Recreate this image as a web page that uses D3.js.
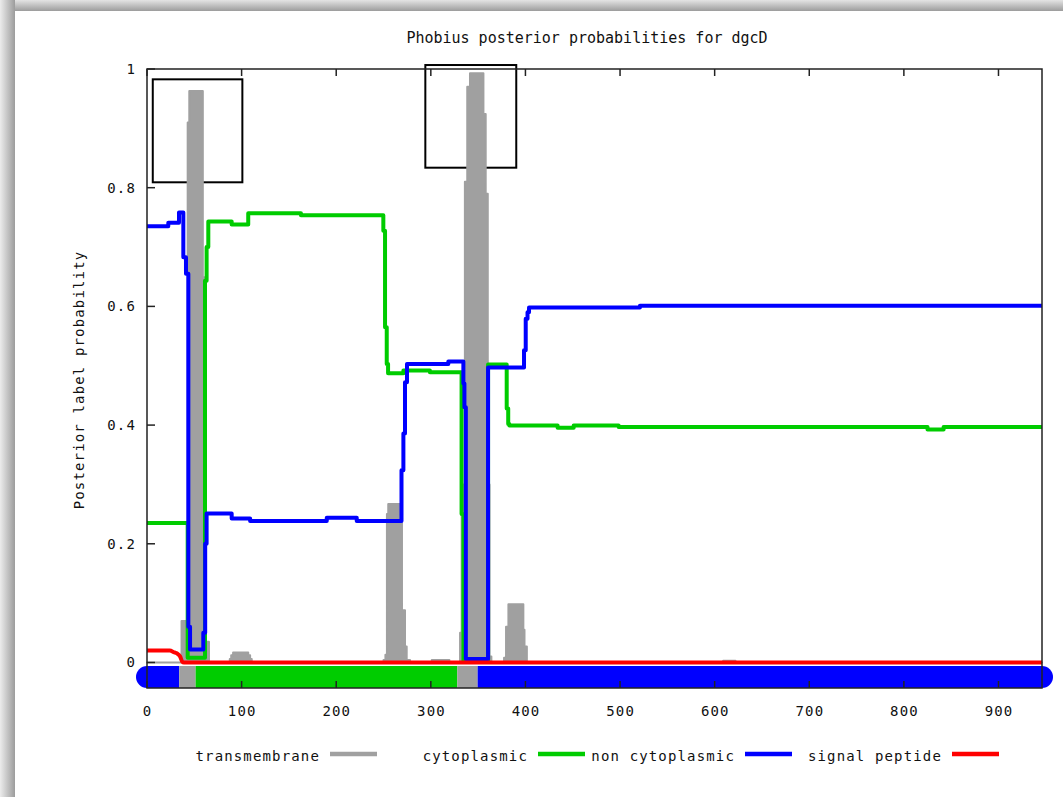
<!DOCTYPE html>
<html>
<head>
<meta charset="utf-8">
<script src="https://cdn.jsdelivr.net/npm/d3@7"></script>
<style>
  body { margin: 0; background: #ffffff; }
  text { font-family: "DejaVu Sans Mono", "Liberation Mono", monospace; fill: #111; }
</style>
</head>
<body>
<script>
// ---------------- data ----------------
const title = "Phobius posterior probabilities for dgcD";
const yLabel = "Posterior label probability";
const seqLength = 946;
const xTicks = [0, 100, 200, 300, 400, 500, 600, 700, 800, 900];
const yTicks = [0, 0.2, 0.4, 0.6, 0.8, 1];
const yTickLabels = ["0", "0.2", "0.4", "0.6", "0.8", "1"];

const legendNames = ["transmembrane", "cytoplasmic", "non cytoplasmic", "signal peptide"];
const legendColors = ["#a0a0a0", "#00cc00", "#0000ff", "#ff0000"];

// transmembrane (gray), step positions / values
const tmPos = [0, 36.5, 43, 44.7, 59, 60.8, 65.5, 87.5, 89, 91, 107, 109, 110.7,
  250, 252, 253.6, 255, 267, 269.5, 272.7, 274.5, 278, 301, 319.6,
  330.9, 332.6, 336, 338.5, 341.4, 355.6, 358, 360.2, 362, 364,
  377.4, 379.5, 382, 397.8, 399, 401.5, 609, 622, 946];
const tmVal = [0, 0.07, 0.91, 0.963, 0.649, 0.035, 0, 0.006, 0.012, 0.017, 0.012, 0.006, 0,
  0.004, 0.013, 0.25, 0.267, 0.25, 0.088, 0.027, 0.004, 0, 0.004, 0,
  0.05, 0.3, 0.81, 0.97, 0.993, 0.924, 0.79, 0.3, 0.01, 0,
  0.008, 0.06, 0.098, 0.055, 0.027, 0, 0.003, 0, 0];

// cytoplasmic (green)
const cytoPos = [0, 43, 61.3, 63, 64.8, 89.5, 107, 162.7, 249.8, 251.6, 253.4, 254.8,
  271, 299, 332.5, 334.5, 360.5, 380.2, 381.8, 383, 434, 451, 498.5, 825, 842, 946];
const cytoVal = [0.235, 0.008, 0.643, 0.70, 0.743, 0.738, 0.757, 0.7535, 0.7275, 0.565, 0.503, 0.4875,
  0.492, 0.489, 0.25, 0.003, 0.502, 0.428, 0.402, 0.3995, 0.3956, 0.3995, 0.3966, 0.3927, 0.3966, 0.3966];

// non cytoplasmic (blue)
const nonCytoPos = [0, 22.5, 33.8, 38.4, 41.2, 43.7, 45.5, 59.5, 61.5, 63, 89.5, 109, 190, 221.7,
  269, 271, 272.7, 274.8, 318.5, 334.4, 335.5, 337, 360.5, 398.5, 400.3, 402.2, 403.8, 521, 946];
const nonCytoVal = [0.735, 0.741, 0.758, 0.683, 0.655, 0.06, 0.022, 0.05, 0.2, 0.251, 0.2425, 0.2385, 0.244, 0.2385,
  0.324, 0.386, 0.472, 0.503, 0.507, 0.47, 0.43, 0.006, 0.497, 0.526, 0.579, 0.59, 0.598, 0.601, 0.601];

// signal peptide (red)
const sigPos = [0, 24, 29, 31.5, 35, 37.3, 39, 946];
const sigVal = [0.02, 0.02, 0.017, 0.0155, 0.01, 0.0013, 0, 0];

// predicted topology bar
const topoStart = [0, 34, 51.4, 328, 349.5];
const topoEnd = [34, 51.4, 328, 349.5, 946];
const topoClass = ["non cytoplasmic", "transmembrane", "cytoplasmic", "transmembrane", "non cytoplasmic"];
const topoLevel = -0.0245;

// highlight boxes (data coordinates)
const boxX0 = [6.1, 294.2];
const boxX1 = [100.8, 390.3];
const boxYTop = [0.9826, 1.0067];
const boxYBottom = [0.8091, 0.8337];

// ---------------- drawing ----------------
const W = 1063, H = 797;
const colorOf = d3.scaleOrdinal().domain(legendNames).range(legendColors);

const svg = d3.select("body").append("svg").attr("width", W).attr("height", H);
const defs = svg.append("defs");
const gTop = defs.append("linearGradient").attr("id", "gTop").attr("x1", 0).attr("y1", 0).attr("x2", 0).attr("y2", 1);
gTop.append("stop").attr("offset", "0%").attr("stop-color", "#e4e4e4");
gTop.append("stop").attr("offset", "100%").attr("stop-color", "#9c9c9c");
const gLeft = defs.append("linearGradient").attr("id", "gLeft").attr("x1", 0).attr("y1", 0).attr("x2", 1).attr("y2", 0);
gLeft.append("stop").attr("offset", "0%").attr("stop-color", "#ececec");
gLeft.append("stop").attr("offset", "100%").attr("stop-color", "#9c9c9c");

svg.append("rect").attr("x", 0).attr("y", 0).attr("width", W).attr("height", H).attr("fill", "#fff");
svg.append("rect").attr("x", 0).attr("y", 0).attr("width", W).attr("height", 11).attr("fill", "url(#gTop)");
svg.append("rect").attr("x", 0).attr("y", 0).attr("width", 15).attr("height", H).attr("fill", "url(#gLeft)");

const x = d3.scaleLinear().domain([0, seqLength]).range([147, 1042]);
const y = d3.scaleLinear().domain([-0.043, 1]).range([688, 69]);

// title
svg.append("text").attr("x", 587).attr("y", 43).attr("text-anchor", "middle")
  .style("font-size", "15px").text(title);

// y label
svg.append("text").attr("transform", "translate(84,380) rotate(-90)").attr("text-anchor", "middle")
  .style("font-size", "14px").style("letter-spacing", "1.15px").text(yLabel);

// highlight boxes
const boxes = d3.range(boxX0.length);
svg.append("g").selectAll("rect").data(boxes).join("rect")
  .attr("x", i => x(boxX0[i])).attr("y", i => y(boxYTop[i]))
  .attr("width", i => x(boxX1[i]) - x(boxX0[i]))
  .attr("height", i => y(boxYBottom[i]) - y(boxYTop[i]))
  .attr("fill", "none").attr("stroke", "#000").attr("stroke-width", 2);

// transmembrane area
const tmData = d3.zip(tmPos, tmVal);
svg.append("path").datum(tmData)
  .attr("d", d3.area().x(d => x(d[0])).y0(y(0)).y1(d => y(d[1])).curve(d3.curveStepAfter))
  .attr("fill", colorOf("transmembrane"))
  .attr("stroke", colorOf("transmembrane")).attr("stroke-width", 2).attr("stroke-linejoin", "round");

// topology bar
const topo = d3.range(topoStart.length);
const barG = svg.append("g");
barG.selectAll("line").data(topo).join("line")
  .attr("x1", i => x(topoStart[i])).attr("x2", i => x(topoEnd[i]))
  .attr("y1", y(topoLevel)).attr("y2", y(topoLevel))
  .attr("stroke", i => colorOf(topoClass[i])).attr("stroke-width", 22);
barG.selectAll("circle").data([0, topo.length - 1]).join("circle")
  .attr("cx", (i, k) => x(k === 0 ? topoStart[i] : topoEnd[i]))
  .attr("cy", y(topoLevel)).attr("r", 11)
  .attr("fill", i => colorOf(topoClass[i]));

// step lines
const stepLine = d3.line().x(d => x(d[0])).y(d => y(d[1])).curve(d3.curveStepAfter);
function drawLine(pos, val, name, curve) {
  const gen = curve ? d3.line().x(d => x(d[0])).y(d => y(d[1])).curve(curve) : stepLine;
  svg.append("path").datum(d3.zip(pos, val)).attr("d", gen)
    .attr("fill", "none").attr("stroke", colorOf(name)).attr("stroke-width", 4)
    .attr("stroke-linejoin", "round").attr("stroke-linecap", "butt");
}
drawLine(cytoPos, cytoVal, "cytoplasmic");
drawLine(nonCytoPos, nonCytoVal, "non cytoplasmic");
drawLine(sigPos, sigVal, "signal peptide", d3.curveMonotoneX);

// border
const plot = svg.append("g");
plot.append("rect").attr("x", x(0)).attr("y", y(1))
  .attr("width", x(seqLength) - x(0)).attr("height", y(-0.043) - y(1))
  .attr("fill", "none").attr("stroke", "#222").attr("stroke-width", 1.5);

// x ticks (bottom up, top down)
plot.selectAll(".xtb").data(xTicks).join("line").attr("class", "xtb")
  .attr("x1", d => x(d)).attr("x2", d => x(d)).attr("y1", 688).attr("y2", 681)
  .attr("stroke", "#222").attr("stroke-width", 1.5);
plot.selectAll(".xtt").data(xTicks).join("line").attr("class", "xtt")
  .attr("x1", d => x(d)).attr("x2", d => x(d)).attr("y1", y(1)).attr("y2", y(1) + 7)
  .attr("stroke", "#222").attr("stroke-width", 1.5);
plot.selectAll(".xl").data(xTicks).join("text").attr("class", "xl")
  .attr("x", d => x(d) + 0.6).attr("y", 716).attr("text-anchor", "middle")
  .style("font-size", "14px").style("letter-spacing", "1.15px").text(d => d);

// y ticks
plot.selectAll(".yt").data(yTicks).join("line").attr("class", "yt")
  .attr("x1", x(0)).attr("x2", x(0) + 8).attr("y1", d => y(d)).attr("y2", d => y(d))
  .attr("stroke", "#222").attr("stroke-width", 1.5);
plot.selectAll(".yl").data(yTicks).join("text").attr("class", "yl")
  .attr("x", 136).attr("y", d => y(d) + 5).attr("text-anchor", "end")
  .style("font-size", "14px").style("letter-spacing", "1.15px").text((d, i) => yTickLabels[i]);

// legend
const legEnd = [320, 528, 735, 942];
const leg = svg.append("g");
leg.selectAll("text").data(legendNames).join("text")
  .attr("x", (d, i) => legEnd[i]).attr("y", 761).attr("text-anchor", "end")
  .style("font-size", "14px").style("letter-spacing", "1.15px").text(d => d);
leg.selectAll("line").data(legendNames).join("line")
  .attr("x1", (d, i) => legEnd[i] + 10).attr("x2", (d, i) => legEnd[i] + 57)
  .attr("y1", 754).attr("y2", 754)
  .attr("stroke", d => colorOf(d)).attr("stroke-width", 4.5);
</script>
</body>
</html>
